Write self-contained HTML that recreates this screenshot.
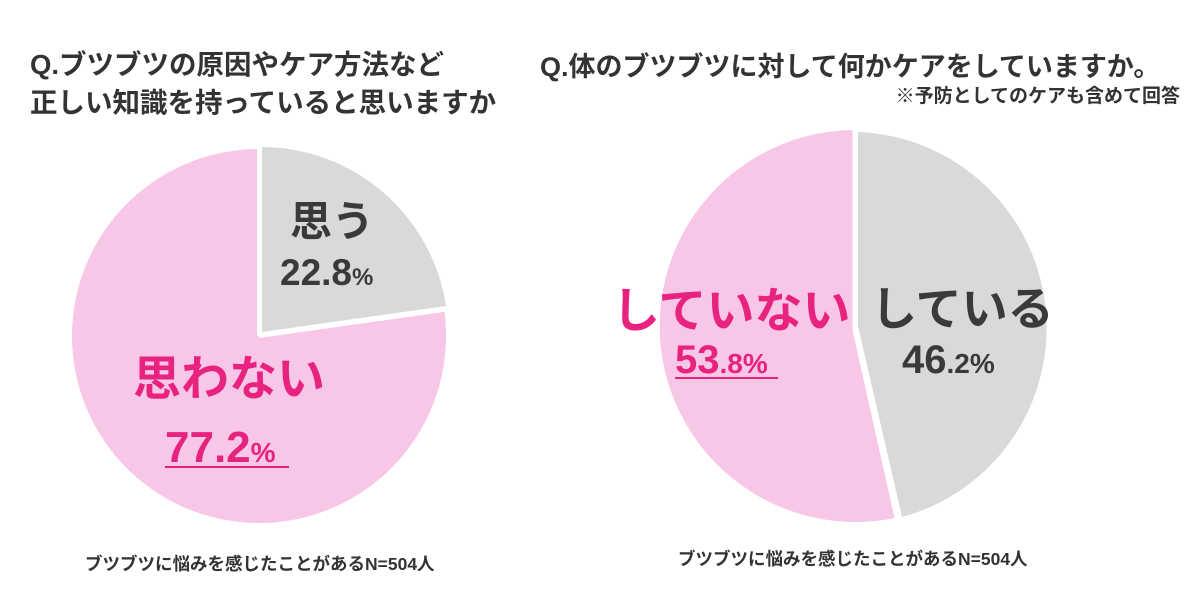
<!DOCTYPE html>
<html><head><meta charset="utf-8"><style>
body{margin:0;background:#fff;width:1200px;height:600px;overflow:hidden}
svg text{font-family:"Liberation Sans","Noto Sans CJK JP",sans-serif;font-weight:bold}
</style></head><body>
<svg width="1200" height="600" viewBox="0 0 1200 600" xmlns="http://www.w3.org/2000/svg">
<rect width="1200" height="600" fill="#fff"/>
<text x="30" y="74" font-size="27.5" fill="#333">Q.ブツブツの原因やケア方法など</text>
<text x="30" y="112" font-size="27.5" fill="#333">正しい知識を持っていると思いますか</text>
<text x="540" y="76" font-size="27" fill="#333">Q.体のブツブツに対して何かケアをしていますか。</text>
<text x="1180" y="102" font-size="19" fill="#333" text-anchor="end">※予防としてのケアも含めて回答</text>

<path d="M259,336 L444.2,310 A187,187 0 1 1 259,149 Z" fill="#f8c6e7"/>
<path d="M262,332 L262,147 A187,187 0 0 1 446,306 Z" fill="#d9d9d9"/>
<path d="M259,336 L259,146 M259,336 L447,309.5" stroke="#fff" stroke-width="4" fill="none"/>

<text x="290" y="236" font-size="42" fill="#3a3a3a">思う</text>
<text x="280" y="285" font-size="37" fill="#3a3a3a">22.8<tspan font-size="24">%</tspan></text>
<text x="133" y="395" font-size="48" fill="#e8237f">思わない</text>
<text x="165" y="462" font-size="44" fill="#e8237f">77.2<tspan font-size="28">%</tspan></text>
<rect x="165" y="466" width="124" height="2" fill="#e8237f"/>

<path d="M853,326 L895,518 A196,196 0 1 1 853,130 Z" fill="#f8c6e7"/>
<path d="M858,326 L858,132 A196,196 0 0 1 902,517 Z" fill="#d9d9d9"/>
<path d="M855,330 L855,128 M855,330 L898,522" stroke="#fff" stroke-width="5" fill="none"/>

<text x="612" y="327" font-size="48" fill="#e8237f">していない</text>
<text x="675" y="373" font-size="40" fill="#e8237f">53<tspan font-size="28">.8%</tspan></text>
<rect x="675" y="377" width="103" height="2" fill="#e8237f"/>
<text x="871" y="325" font-size="46" fill="#3a3a3a">している</text>
<text x="902" y="373" font-size="40" fill="#3a3a3a">46<tspan font-size="28">.2%</tspan></text>

<text x="85" y="570" font-size="17.5" fill="#333">ブツブツに悩みを感じたことがあるN=504人</text>
<text x="678" y="565" font-size="17.5" fill="#333">ブツブツに悩みを感じたことがあるN=504人</text>
</svg>
</body></html>
